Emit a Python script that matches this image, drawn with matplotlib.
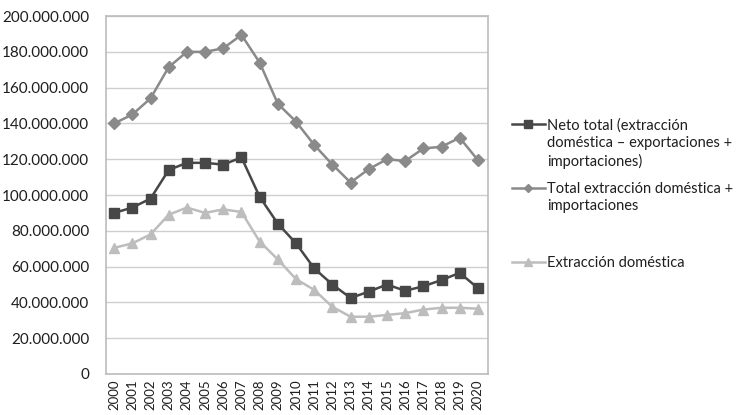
import matplotlib
matplotlib.use("Agg")
import matplotlib.pyplot as plt
from matplotlib.lines import Line2D
from matplotlib.ticker import FuncFormatter

plt.rcParams["font.family"] = ["Lato", "DejaVu Sans"]

years = list(range(2000, 2021))

# toneladas
neto_total = [90, 93, 98, 114, 118, 118, 117, 121, 99, 84, 73, 59, 50, 42.5,
              46, 50, 46.5, 49, 52.5, 56.5, 48]
total_ext_imp = [140, 145, 154, 171.5, 180, 180, 182, 189.5, 174, 151, 141, 128,
                 117, 107, 114.5, 120, 119, 126, 127, 132, 119.5]
extraccion_dom = [70.5, 73, 78, 89, 93, 90, 92, 90.5, 74, 64, 53, 47, 37.5, 32,
                  32, 33, 34, 36, 37, 37, 36.5]

labels = ["Neto total (extracción\ndoméstica – exportaciones +\nimportaciones)",
          "Total extracción doméstica +\nimportaciones",
          "Extracción doméstica"]

c_neto = "#474747"
c_total = "#8a8a8a"
c_dom = "#bdbdbd"
txt = "#1e1e1e"

fig = plt.figure(figsize=(7.38, 4.15), dpi=100)
ax = fig.add_axes([0.1436, 0.0988, 0.5175, 0.8625])

M = 1e6
ax.plot(years, [v * M for v in total_ext_imp], color=c_total, lw=1.8,
        marker="D", ms=6, zorder=3)
ax.plot(years, [v * M for v in neto_total], color=c_neto, lw=1.8,
        marker="s", ms=7.5, zorder=4)
ax.plot(years, [v * M for v in extraccion_dom], color=c_dom, lw=1.8,
        marker="^", ms=7, zorder=2)

ax.set_ylim(0, 200 * M)
ax.set_xlim(1999.55, 2020.55)
ax.set_yticks([i * 20 * M for i in range(11)])
ax.yaxis.set_major_formatter(
    FuncFormatter(lambda v, p: f"{int(round(v)):,}".replace(",", ".")))
ax.set_xticks(years)
ax.set_xticklabels([str(y) for y in years], rotation=90)
ax.tick_params(axis="both", length=0, colors=txt)
ax.tick_params(axis="y", pad=12, labelsize=11)
ax.tick_params(axis="x", pad=4, labelsize=9.5)
ax.grid(axis="y", color="#cfcfcf", lw=1)
ax.set_axisbelow(True)
for s in ax.spines.values():
    s.set_color("#bcbcbc")
    s.set_linewidth(1.2)

# leyenda a la derecha del área de trazado
entries = [(c_neto, "s", 6, 0.701), (c_total, "D", 4.5, 0.547), (c_dom, "^", 5.5, 0.369)]
for (col, mk, ms, y), lab in zip(entries, labels):
    fig.add_artist(Line2D([0.694, 0.738], [y, y], color=col, lw=1.8,
                          transform=fig.transFigure))
    fig.add_artist(Line2D([0.716], [y], color=col, marker=mk, ms=ms,
                          transform=fig.transFigure))
    fig.text(0.741, y + 0.014, lab, ha="left", va="top", fontsize=10.5,
             color=txt, linespacing=1.3)

fig.savefig("out.png", dpi=100)
